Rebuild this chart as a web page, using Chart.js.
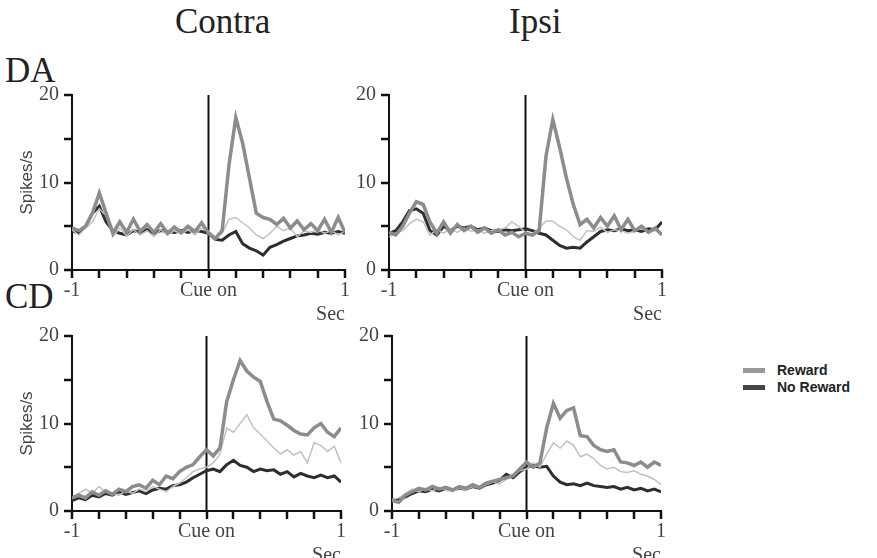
<!DOCTYPE html>
<html>
<head>
<meta charset="utf-8">
<script src="https://cdn.jsdelivr.net/npm/chart.js@4.4.1/dist/chart.umd.min.js"></script>
<style>
  body { margin: 0; width: 877px; height: 558px; background: #fff; position: relative; overflow: hidden; font-family: "Liberation Serif", serif; }
  canvas { position: absolute; }
  .lbl { position: absolute; color: #222; white-space: nowrap; line-height: 1; }
  .key { position: absolute; font-family: "Liberation Sans", Arial, sans-serif; font-weight: bold; font-size: 14px; color: #222; line-height: 1; }
  .swatch { position: absolute; width: 22px; height: 5px; }
</style>
</head>
<body>
<div class="lbl" style="left:175px;top:4px;font-size:35px">Contra</div>
<div class="lbl" style="left:509px;top:4px;font-size:35px">Ipsi</div>
<div class="lbl" style="left:5px;top:53px;font-size:35px">DA</div>
<div class="lbl" style="left:5px;top:279px;font-size:35px">CD</div>

<div class="swatch" style="left:743px;top:368px;background:#999"></div>
<div class="key" style="left:777px;top:363px">Reward</div>
<div class="swatch" style="left:743px;top:385px;background:#444"></div>
<div class="key" style="left:777px;top:380px">No Reward</div>

<canvas id="daContra" width="370" height="256" style="left:0;top:71px"></canvas>
<canvas id="daIpsi" width="347" height="256" style="left:340px;top:71px"></canvas>
<canvas id="cdContra" width="366" height="256" style="left:0;top:312px"></canvas>
<canvas id="cdIpsi" width="346" height="256" style="left:340px;top:312px"></canvas>

<script>
// time bins (s), cue onset at 0
const times = [-1, -0.95, -0.9, -0.85, -0.8, -0.75, -0.7, -0.65, -0.6, -0.55, -0.5, -0.45, -0.4, -0.35, -0.3, -0.25, -0.2, -0.15, -0.1, -0.05,
  0, 0.05, 0.1, 0.15, 0.2, 0.25, 0.3, 0.35, 0.4, 0.45, 0.5, 0.55, 0.6, 0.65, 0.7, 0.75, 0.8, 0.85, 0.9, 0.95, 1];

// DA, contra
const daContraReward = [4.8, 4.5, 5.0, 6.5, 8.8, 6.5, 4.2, 5.5, 4.3, 5.8, 4.4, 5.2, 4.3, 5.3, 4.2, 4.9, 4.3, 5.0, 4.4, 5.4,
  4.2, 3.6, 4.5, 12.0, 17.4, 14.5, 10.5, 6.5, 6.0, 5.8, 5.2, 5.9, 4.8, 5.6, 4.6, 5.3, 4.5, 5.8, 4.3, 6.0, 4.3];
const daContraThin = [4.6, 4.0, 4.8, 5.5, 7.0, 6.2, 3.8, 4.8, 3.9, 4.6, 4.0, 4.5, 3.8, 4.6, 4.0, 4.5, 4.1, 4.6, 4.0, 4.8,
  4.5, 3.7, 4.2, 5.8, 6.0, 5.4, 4.8, 4.0, 3.6, 4.2, 5.0, 4.5, 4.8, 3.8, 4.5, 4.3, 4.6, 4.2, 4.5, 4.0, 4.4];
const daContraNoReward = [4.5, 4.2, 5.0, 6.5, 7.3, 5.5, 4.5, 4.2, 4.0, 4.5, 4.3, 4.6, 4.2, 4.5, 4.4, 4.3, 4.5, 4.3, 4.5, 4.4,
  4.2, 3.5, 3.4, 4.0, 4.4, 3.0, 2.5, 2.2, 1.7, 2.6, 2.9, 3.3, 3.6, 3.9, 4.0, 4.2, 4.1, 4.3, 4.2, 4.4, 4.2];

// DA, ipsi
const daIpsiReward = [4.3, 4.0, 5.0, 6.5, 7.8, 7.5, 5.5, 4.2, 5.5, 4.2, 5.2, 4.5, 5.0, 4.3, 4.8, 4.2, 4.6, 4.0, 4.3, 3.8,
  4.2, 4.0, 4.5, 13.0, 17.2, 14.0, 10.5, 7.5, 5.2, 5.8, 4.8, 6.0, 5.0, 6.2, 4.6, 5.8, 4.5, 5.0, 4.3, 4.8, 4.0];
const daIpsiThin = [3.8, 4.2, 4.5, 5.3, 5.8, 5.5, 4.0, 4.6, 4.2, 4.7, 4.3, 4.8, 4.4, 4.6, 4.2, 4.5, 4.6, 4.8, 5.5, 5.0,
  4.3, 4.1, 4.8, 5.6, 5.6, 5.0, 4.6, 3.8, 3.4, 4.5, 4.4, 4.9, 4.3, 4.6, 4.5, 4.2, 4.4, 4.8, 4.3, 4.5, 4.2];
const daIpsiNoReward = [4.2, 4.5, 5.5, 6.8, 7.0, 6.5, 4.5, 4.0, 5.0, 4.5, 5.0, 4.8, 5.0, 4.6, 4.8, 4.5, 4.4, 4.6, 4.5, 4.6,
  4.7, 4.5, 4.2, 4.0, 3.4, 2.8, 2.5, 2.6, 2.5, 3.2, 3.8, 4.4, 4.6, 4.5, 4.7, 4.5, 4.6, 4.4, 4.7, 4.6, 5.5];

// CD, contra
const cdContraReward = [1.5, 1.8, 1.5, 2.2, 1.8, 2.3, 1.9, 2.5, 2.2, 2.8, 3.0, 2.6, 3.5, 3.0, 4.0, 3.7, 4.5, 5.0, 5.3, 6.2,
  7.0, 6.3, 7.2, 12.5, 15.0, 17.2, 16.0, 15.3, 14.8, 12.5, 10.5, 10.3, 9.8, 9.2, 8.8, 8.7, 9.5, 10.0, 9.0, 8.5, 9.5];
const cdContraThin = [1.6, 2.0, 2.5, 2.0, 2.8, 2.2, 2.0, 1.8, 2.3, 2.0, 2.5, 2.2, 2.8, 2.5, 2.2, 2.8, 3.2, 3.8, 4.5, 4.8,
  5.0, 5.5, 6.5, 9.5, 9.0, 10.0, 11.0, 9.5, 8.8, 8.0, 7.2, 6.5, 7.0, 6.4, 6.8, 5.5, 7.8, 7.5, 6.8, 7.4, 5.5];
const cdContraNoReward = [1.2, 1.5, 1.3, 1.8, 1.6, 2.0, 1.8, 2.2, 1.9, 2.1, 2.3, 2.0, 2.4, 2.6, 2.5, 2.9, 3.0, 3.3, 3.8, 4.2,
  4.6, 4.8, 4.5, 5.3, 5.8, 5.2, 5.0, 4.5, 4.8, 4.6, 4.7, 4.2, 4.5, 3.9, 4.3, 4.0, 3.8, 4.1, 3.8, 4.0, 3.3];

// CD, ipsi
const cdIpsiReward = [1.2, 1.0, 1.8, 2.2, 2.6, 2.4, 2.8, 2.5, 2.7, 2.4, 2.8, 2.6, 3.0, 2.7, 3.2, 3.4, 3.6, 3.8, 4.0, 4.8,
  5.6, 5.0, 5.5, 9.5, 12.3, 10.6, 11.5, 11.8, 8.6, 8.5, 7.5, 7.0, 6.8, 7.0, 5.6, 5.5, 5.2, 5.6, 5.0, 5.6, 5.2];
const cdIpsiThin = [1.3, 1.5, 2.0, 2.5, 2.2, 2.6, 2.3, 2.7, 2.4, 2.2, 2.6, 2.4, 2.8, 2.6, 3.0, 3.3, 3.1, 3.6, 4.2, 4.6,
  4.8, 5.5, 5.0, 6.5, 7.8, 7.2, 8.0, 7.5, 6.2, 6.5, 6.0, 5.2, 4.8, 5.0, 4.5, 4.4, 4.6, 4.2, 4.0, 3.6, 3.0];
const cdIpsiNoReward = [1.2, 1.3, 1.6, 2.0, 2.3, 2.2, 2.5, 2.3, 2.6, 2.4, 2.6, 2.5, 2.8, 2.6, 3.0, 3.2, 3.5, 4.2, 3.8, 4.5,
  5.0, 5.2, 5.0, 5.1, 4.0, 3.3, 3.0, 3.1, 2.9, 3.2, 2.9, 2.8, 2.7, 2.8, 2.5, 2.7, 2.4, 2.6, 2.3, 2.5, 2.2];

const cueLine = [{ x: 0, y: 0 }, { x: 0, y: 20 }];

const tickFont = { family: "Liberation Serif", size: 20 };

// outward tick marks on both axes, at the scales' own tick values
const tickMarks = {
  id: "tickMarks",
  afterDraw(chart) {
    const { ctx, scales: { x, y } } = chart;
    ctx.save();
    ctx.strokeStyle = "#111";
    ctx.lineWidth = 2.5;
    ctx.beginPath();
    x.ticks.forEach((t) => {
      const px = Math.round(x.getPixelForValue(t.value));
      ctx.moveTo(px, y.bottom);
      ctx.lineTo(px, y.bottom + 8);
    });
    y.ticks.forEach((t) => {
      const py = Math.round(y.getPixelForValue(t.value));
      ctx.moveTo(x.left, py);
      ctx.lineTo(x.left - 8, py);
    });
    ctx.stroke();
    ctx.restore();
  },
};

function toPoints(values) {
  return times.map((t, i) => ({ x: t, y: values[i] }));
}

function makePanel(id, reward, thin, noReward, showTitle, axisWidth) {
  new Chart(document.getElementById(id), {
    type: "line",
    data: {
      datasets: [
        { label: "Reward", data: toPoints(reward), borderColor: "#8c8c8c", borderWidth: 3.5 },
        { label: "", data: toPoints(thin), borderColor: "#c2c2c2", borderWidth: 1.5 },
        { label: "No Reward", data: toPoints(noReward), borderColor: "#2e2e2e", borderWidth: 3 },
        { label: "Cue on", data: cueLine, borderColor: "#111", borderWidth: 2 },
      ],
    },
    options: {
      responsive: false,
      animation: false,
      layout: { padding: { top: 24, right: 25, left: 0, bottom: 0 } },
      plugins: { legend: { display: false }, tooltip: { enabled: false } },
      elements: { point: { radius: 0 }, line: { tension: 0 } },
      scales: {
        x: {
          type: "linear",
          min: -1,
          max: 1,
          ticks: {
            stepSize: 0.2,
            autoSkip: false,
            maxRotation: 0,
            padding: 1,
            color: "#444",
            font: tickFont,
            callback: (v) => {
              const r = Math.round(v * 10);
              if (r === -10) return "-1";
              if (r === 0) return "Cue on";
              if (r === 10) return "1";
              return "";
            },
          },
          title: { display: true, text: "Sec", align: "end", color: "#444", font: tickFont, padding: 0 },
          grid: { display: false },
          border: { color: "#111", width: 2 },
          afterFit: (scale) => { scale.height = 57; },
        },
        y: {
          min: 0,
          max: 20,
          ticks: {
            stepSize: 5,
            padding: 5,
            color: "#444",
            font: tickFont,
            callback: (v) => (v % 10 === 0 ? v : ""),
          },
          title: {
            display: showTitle,
            text: "Spikes/s",
            color: "#444",
            font: { family: "Liberation Sans", size: 17 },
            padding: { top: 17, bottom: 0 },
          },
          grid: { display: false },
          border: { color: "#111", width: 2 },
          afterFit: (scale) => { scale.width = axisWidth; },
        },
      },
    },
    plugins: [tickMarks],
  });
}

makePanel("daContra", daContraReward, daContraThin, daContraNoReward, true, 72);
makePanel("daIpsi", daIpsiReward, daIpsiThin, daIpsiNoReward, false, 49);
makePanel("cdContra", cdContraReward, cdContraThin, cdContraNoReward, true, 72);
makePanel("cdIpsi", cdIpsiReward, cdIpsiThin, cdIpsiNoReward, false, 52);
</script>
</body>
</html>
